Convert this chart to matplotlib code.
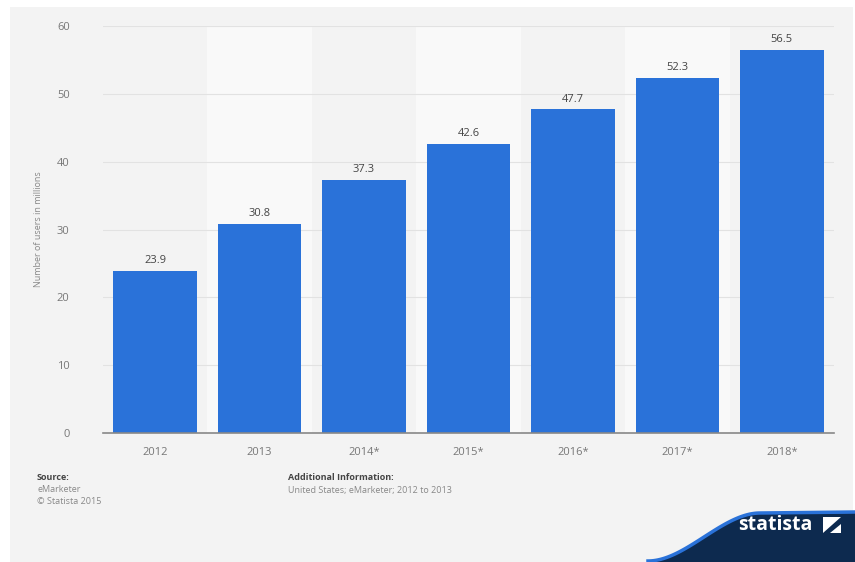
import numpy as np
import matplotlib.pyplot as plt
from matplotlib.patches import Rectangle, Polygon

years = ["2012", "2013", "2014*", "2015*", "2016*", "2017*", "2018*"]
users = [23.9, 30.8, 37.3, 42.6, 47.7, 52.3, 56.5]
y_ticks = [0, 10, 20, 30, 40, 50, 60]

W, H = 855, 562
BAR = "#2a72d9"
BG = "#f3f3f3"
BAND = "#f9f9f9"

fig = plt.figure(figsize=(W / 100, H / 100), dpi=100)
fig.patch.set_facecolor("white")

# gray card behind everything
fig.patches.append(Rectangle((10 / W, 0), (W - 12) / W, (H - 7) / H,
                             transform=fig.transFigure, facecolor=BG,
                             edgecolor="none", zorder=-10))

ax = fig.add_axes([103 / W, (H - 433) / H, (834 - 103) / W, (433 - 26) / H])
ax.set_facecolor("none")
x = np.arange(len(years))

for i in x:
    if i % 2 == 1:
        ax.axvspan(i - 0.5, i + 0.5, color=BAND, zorder=0, lw=0)

ax.bar(x, users, width=0.8, color=BAR, zorder=3)
for xi, v in zip(x, users):
    ax.text(xi, v + 0.7, f"{v:.1f}", ha="center", va="bottom",
            fontsize=8, color="#444444", family="Open Sans")

ax.set_xlim(-0.5, 6.5)
ax.set_ylim(0, 60)
ax.set_yticks(y_ticks)
ax.set_xticks(x)
ax.set_xticklabels(years)
ax.grid(axis="y", color="#e2e2e2", lw=0.8, zorder=1)
for s in ["top", "right", "left"]:
    ax.spines[s].set_visible(False)
ax.spines["bottom"].set_color("#888888")
ax.spines["bottom"].set_linewidth(1.2)
ax.spines["bottom"].set_zorder(4)
ax.tick_params(axis="both", length=0, labelsize=8, labelcolor="#777777")
ax.tick_params(axis="y", pad=24)
ax.tick_params(axis="x", pad=10)
for lab in ax.get_xticklabels() + ax.get_yticklabels():
    lab.set_family("Open Sans")
ax.set_ylabel("Number of users in millions", fontsize=6.5, color="#888888",
              family="Open Sans", labelpad=10)

# footer
ft = dict(transform=fig.transFigure, family="Open Sans", fontsize=6.5, va="center")
fig.text(37 / W, 1 - 478 / H, "Source:", color="#444444", fontweight="bold", **ft)
fig.text(37 / W, 1 - 490 / H, "eMarketer", color="#888888", **ft)
fig.text(37 / W, 1 - 502 / H, "\u00a9 Statista 2015", color="#888888", **ft)
fig.text(288 / W, 1 - 478 / H, "Additional Information:", color="#444444",
         fontweight="bold", **ft)
fig.text(288 / W, 1 - 491 / H, "United States; eMarketer; 2012 to 2013",
         color="#888888", **ft)

# statista logo wave
t = np.linspace(0, 1, 60)
wx = 648 + 112 * t
wy = 562 - 48 * (3 * t ** 2 - 2 * t ** 3)
top_x = np.concatenate([wx, [W]])
top_y = np.concatenate([wy, [513]])
pts = [(px / W, 1 - py / H) for px, py in zip(top_x, top_y)]
pts += [(1, 0), (648 / W, 0)]
fig.patches.append(Polygon(pts, closed=True, transform=fig.transFigure,
                           facecolor="#0d2a4f", edgecolor="none", zorder=5))
fig.lines.append(plt.Line2D(top_x / W, 1 - (top_y - 1) / H, transform=fig.transFigure,
                            color="#2a72d9", lw=2.5, zorder=6))
fig.text(775 / W, 1 - 525 / H, "statista", transform=fig.transFigure, color="white",
         fontsize=14, fontweight="bold", family="Open Sans", ha="center",
         va="center", zorder=7)
fig.patches.append(Polygon([(823 / W, 1 - 517 / H), (841 / W, 1 - 517 / H),
                            (841 / W, 1 - 533 / H), (823 / W, 1 - 533 / H)],
                           transform=fig.transFigure, facecolor="white",
                           edgecolor="none", zorder=7))
fig.patches.append(Polygon([(823 / W, 1 - 533 / H), (841 / W, 1 - 517 / H),
                            (841 / W, 1 - 524 / H), (830 / W, 1 - 533 / H)],
                           transform=fig.transFigure, facecolor="#0d2a4f",
                           edgecolor="none", zorder=8))

fig.savefig("out.png", dpi=100)
